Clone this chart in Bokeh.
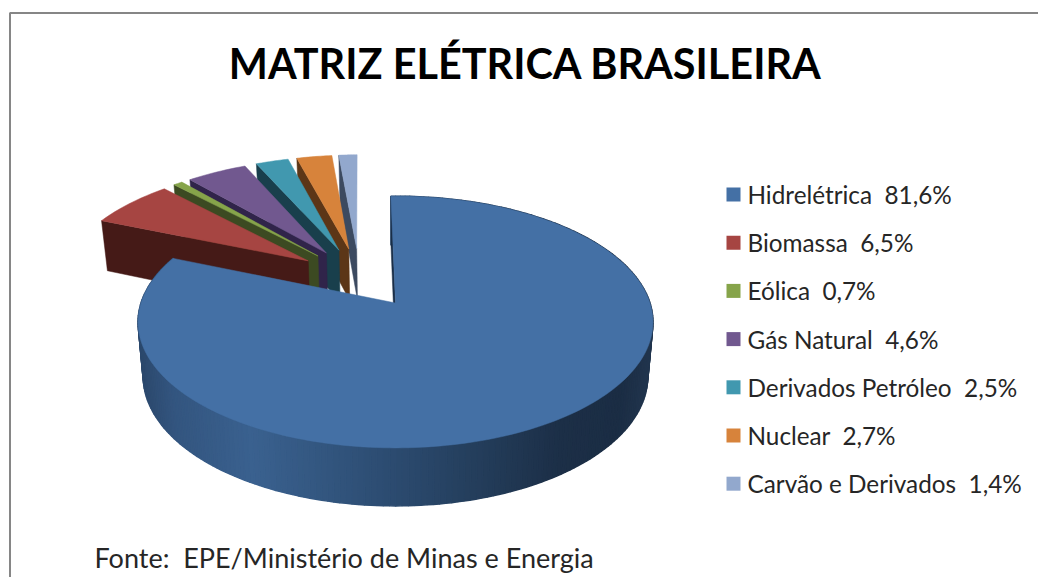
import math
from bokeh.plotting import figure
from bokeh.models import Range1d
from bokeh.core.properties import value
from bokeh.embed import file_html
from bokeh.resources import INLINE

categories = ["Hidrelétrica", "Biomassa", "Eólica", "Gás Natural", "Derivados Petróleo", "Nuclear", "Carvão e Derivados"]
shares = [81.6, 6.5, 0.7, 4.6, 2.5, 2.7, 1.4]
share_labels = ["81,6%", "6,5%", "0,7%", "4,6%", "2,5%", "2,7%", "1,4%"]
top_colors = ["#4470A5", "#A64542", "#86A44A", "#71588F", "#4198AF", "#D7833B", "#92A8CD"]
face_colors = ["#1B2F48", "#451A17", "#3C4A22", "#30244A", "#193F4C", "#5C3617", "#3C4A60"]
side_stops = [(137, "#2B486C"), (170, "#33557F"), (250, "#3A618F"), (400, "#2B4A6E"), (560, "#1C2F47"), (620, "#1B2D44"), (654, "#22364F")]

title = "MATRIZ ELÉTRICA BRASILEIRA"
source = "Fonte:\u00a0\u00a0EPE/Ministério de Minas e Energia"

X0, Y0, A, B, K = 395.0, 302.5, 123.0, 254.5, 0.151
EXPLODE, ROT, SHRINK = 0.26, -1.2, 0.98


def dirv(deg):
    r = math.radians(deg + ROT)
    return math.sin(r), math.cos(r)


def top(u, v):
    w = 1 + K * v
    return X0 + B * u / w, Y0 - A * v / w


def bottom(u, v):
    x, y = top(u, v)
    w = 1 + K * v
    return X0 + (x - X0) * SHRINK, y + 58 - 30 * (w - 0.849)


def hex_mix(stops, x):
    if x <= stops[0][0]:
        return stops[0][1]
    for (a, ca), (b, cb) in zip(stops, stops[1:]):
        if x <= b:
            t = (x - a) / (b - a)
            ch = [round(int(ca[i:i + 2], 16) * (1 - t) + int(cb[i:i + 2], 16) * t) for i in (1, 3, 5)]
            return "#%02x%02x%02x" % tuple(ch)
    return stops[-1][1]


p = figure(width=1038, height=577, x_range=Range1d(0, 1038), y_range=Range1d(577, 0),
           toolbar_location=None, output_backend="svg", min_border=0,
           background_fill_color="white", border_fill_color="white", outline_line_color=None)
p.axis.visible = False
p.grid.visible = False

# slice angle spans, clockwise from the top
spans = []
acc = 0.0
for s in shares:
    spans.append((acc * 3.6, (acc + s) * 3.6))
    acc += s

bx, by = dirv((spans[0][0] + spans[0][1]) / 2)

# exploded slices, back to front
for i in range(len(shares) - 1, 0, -1):
    a0, a1 = spans[i]
    mx, my = dirv((a0 + a1) / 2)
    tu, tv = EXPLODE * (mx - bx), EXPLODE * (my - by)
    su, sv = dirv(a0)
    corners = [top(tu, tv), top(tu + su, tv + sv), bottom(tu + su, tv + sv), bottom(tu, tv)]
    p.patch([c[0] for c in corners], [c[1] for c in corners], fill_color=face_colors[i], line_color=face_colors[i], line_width=0.5)
    n = 12
    arc = [(tu + dirv(a0 + (a1 - a0) * j / n)[0], tv + dirv(a0 + (a1 - a0) * j / n)[1]) for j in range(n + 1)]
    pts = [top(tu, tv)] + [top(*q) for q in arc]
    p.patch([c[0] for c in pts], [c[1] for c in pts], fill_color=top_colors[i], line_color=top_colors[i], line_width=0.5)

# main slice
a0, a1 = spans[0]
n = 240
arc = [dirv(a0 + (a1 - a0) * j / n) for j in range(n + 1)]
xs, ys, cs = [], [], []
for q0, q1 in zip(arc, arc[1:]):
    t0, t1, b1, b0 = top(*q0), top(*q1), bottom(*q1), bottom(*q0)
    xs.append([t0[0], t1[0], b1[0], b0[0]])
    ys.append([t0[1], t1[1], b1[1], b0[1]])
    cs.append(hex_mix(side_stops, (t0[0] + t1[0]) / 2))
p.patches(xs, ys, fill_color=cs, line_color=cs, line_width=1.5)

su, sv = arc[0]
corners = [top(0, 0), top(su, sv), bottom(su, sv), bottom(0, 0)]
p.patch([c[0] for c in corners], [c[1] for c in corners], fill_color=face_colors[0], line_color=face_colors[0], line_width=0.5)
pts = [top(0, 0)] + [top(*q) for q in arc]
p.patch([c[0] for c in pts], [c[1] for c in pts], fill_color=top_colors[0], line_color=top_colors[0], line_width=0.5)

# chart frame
p.line([9.5, 9.5, 1038], [577, 12.5, 12.5], line_color="#868686", line_width=2)

# title and source
p.text([525], [62], text=[title], text_font=value("Lato"), text_font_style="bold", text_font_size="41.4px",
       text_color="#000000", text_align="center", text_baseline="middle")
p.text([94], [557], text=[source], text_font=value("Lato"), text_font_size="27px",
       text_color="#262626", text_align="left", text_baseline="middle")

# legend
row_y = [194 + 48.2 * i for i in range(len(categories))]
p.rect([733] * len(categories), row_y, width=14, height=14, fill_color=top_colors, line_color=None)
p.text([747] * len(categories), row_y,
       text=[f"{c}\u00a0\u00a0{l}" for c, l in zip(categories, share_labels)],
       text_font=value("Lato"), text_font_size="24.3px", text_color="#262626",
       text_align="left", text_baseline="middle")

open("out.html", "w").write(file_html(p, INLINE))
